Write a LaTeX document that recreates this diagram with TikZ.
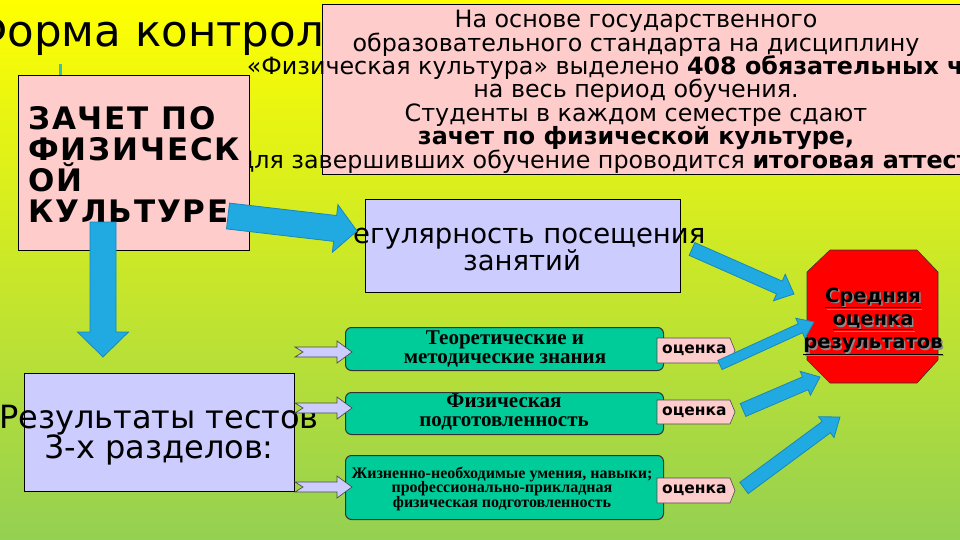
\documentclass[tikz,border=0pt]{standalone}
\usepackage{fontspec}
\setmainfont{DejaVu Sans}
\newfontfamily\tms{Liberation Serif}
\definecolor{bgtop}{RGB}{255,255,0}
\definecolor{bgmid}{RGB}{212,236,30}
\definecolor{bgbot}{RGB}{148,208,82}
\definecolor{pinkbox}{RGB}{255,204,204}
\definecolor{lav}{RGB}{204,204,255}
\definecolor{tealbox}{RGB}{0,204,153}
\definecolor{ablue}{RGB}{33,170,226}
\definecolor{aedge}{RGB}{25,135,185}
\definecolor{octred}{RGB}{255,0,0}
\definecolor{markcol}{RGB}{60,190,180}
\newcommand\fs[2]{\fontsize{#1}{#2}\selectfont}
% block arrow: x1,y1,x2,y2,shaft half width,head half width,head length,style
\newcommand\blkarrow[8]{%
  \pgfmathsetmacro\bkang{atan2(-(#4-#2),#3-#1)}%
  \pgfmathsetmacro\bklen{veclen(#3-#1,#4-#2)}%
  \pgfmathsetmacro\bkbk{\bklen-#7}%
  \draw[#8,shift={(#1,#2)},rotate=\bkang] (0,-#5) -- (\bkbk,-#5) -- (\bkbk,-#6) -- (\bklen,0) -- (\bkbk,#6) -- (\bkbk,#5) -- (0,#5) -- cycle;}
% notched arrow: tail x, centre y
\newcommand\notcharrow[2]{%
  \draw[notch] (#1,#2-5) -- (#1+42,#2-5) -- (#1+42,#2-11) -- (#1+57,#2) -- (#1+42,#2+11) -- (#1+42,#2+5) -- (#1,#2+5) -- (#1+8,#2) -- cycle;}
% label shape: top y, bottom y
\newcommand\marklabel[3]{%
  \draw[lab] (657,#1) -- (730,#1) -- (735,{(#1+#2)/2}) -- (730,#2) -- (657,#2) -- cycle;
  \node[anchor=west,font=\fs{15.5}{17}\bfseries,inner sep=0] (#3) at (662,{(#1+#2)/2}) {оценка};}
\begin{document}
\begin{tikzpicture}[x=1pt,y=-1pt,
  bluearrow/.style={fill=ablue,draw=aedge,line width=0.8pt,line join=miter},
  notch/.style={fill=lav,draw=black!70,line width=0.7pt},
  lab/.style={fill=pinkbox,draw=black!70,line width=0.6pt},
  pinkrect/.style={draw=black,fill=pinkbox,line width=0.8pt,anchor=north west,inner sep=0},
  lavrect/.style={draw=black,fill=lav,line width=0.8pt,anchor=north west,inner sep=0},
  tealrect/.style={draw=black!80,fill=tealbox,line width=1pt,rounded corners=6,anchor=north west,inner sep=0},
  stdline/.style={anchor=base,font=\fs{23.8}{25},inner sep=0},
  zline/.style={anchor=base west,font=\fs{31}{31}\bfseries\addfontfeature{LetterSpace=6},inner sep=0},
  tline/.style={anchor=base,font=\tms\fs{21}{22}\bfseries,inner sep=0},
  smline/.style={anchor=base,font=\tms\fs{16}{16}\bfseries,inner sep=0},
  octline/.style={anchor=base,font=\fs{19.5}{20}\bfseries,inner sep=0}]
\useasboundingbox (0,0) rectangle (960,540);
\clip (0,0) rectangle (960,540);
\shade[top color=bgtop,middle color=bgmid,bottom color=bgbot] (0,0) rectangle (960,540);
% title
\node[anchor=base west,font=\fs{43.5}{45},inner sep=0] (title) at (-30,47) {Форма контроля};
\fill[markcol] (59,64) rectangle (62,75);
% standard box
\node[pinkrect,minimum width=660,minimum height=170] (std) at (322,4) {};
\node[stdline] (s1) at (636,28) {На основе государственного};
\node[stdline] (s2) at (636,51.5) {образовательного стандарта на дисциплину};
\node[stdline] (s3) at (636,75) {«Физическая культура» выделено \textbf{408 обязательных часов}};
\node[stdline] (s4) at (636,98) {на весь период обучения.};
\node[stdline] (s5) at (636,121.5) {Студенты в каждом семестре сдают};
\node[stdline] (s6) at (636,145) {\textbf{зачет по физической культуре,}};
\node[stdline] (s7) at (636,168) {Для завершивших обучение проводится \textbf{итоговая аттестация}};
% zachet box
\node[pinkrect,minimum width=231,minimum height=175] (zach) at (18,75) {};
\node[zline] (z1) at (28,129.5) {ЗАЧЕТ ПО};
\node[zline] (z2) at (28,160.5) {ФИЗИЧЕСК};
\node[zline] (z3) at (28,191.5) {ОЙ};
\node[zline] (z4) at (28,222) {КУЛЬТУРЕ};
% regularity box
\node[lavrect,minimum width=315,minimum height=93] (reg) at (365,199) {};
\node[anchor=base,font=\fs{27.5}{28},inner sep=0] (r1) at (521,243) {Регулярность посещения};
\node[anchor=base,font=\fs{27.5}{28},inner sep=0] (r2) at (522,270) {занятий};
% results box
\node[lavrect,minimum width=270,minimum height=118] (res) at (24,373) {};
\node[anchor=base,font=\fs{32}{32},inner sep=0] (e1) at (159,428) {Результаты тестов};
\node[anchor=base,font=\fs{32}{32},inner sep=0] (e2) at (159,458) {3-х разделов:};
% teal boxes
\node[tealrect,minimum width=318,minimum height=43] (t1) at (345,327) {};
\node[tline] (t1a) at (505,344) {Теоретические и};
\node[tline] (t1b) at (505,363) {методические знания};
\node[tealrect,minimum width=318,minimum height=42] (t2) at (345,392) {};
\node[tline] (t2a) at (504,407) {Физическая};
\node[tline] (t2b) at (504,426) {подготовленность};
\node[tealrect,minimum width=318,minimum height=64] (t3) at (345,455) {};
\node[smline] (t3a) at (502,478) {Жизненно-необходимые умения, навыки;};
\node[smline] (t3b) at (502,492.5) {профессионально-прикладная};
\node[smline] (t3c) at (502,507) {физическая подготовленность};
% notched arrows
\notcharrow{295}{352}
\notcharrow{295}{408}
\notcharrow{295}{487}
% labels
\marklabel{338}{363}{o1}
\marklabel{400}{424}{o2}
\marklabel{478}{503}{o3}
% octagon
\draw[fill=octred,draw=black!80,line width=0.6pt] (830,250) -- (917,250) -- (938,272) -- (938,360) -- (917,383) -- (830,383) -- (807,360) -- (807,272) -- cycle;
\node[octline,text=black!45] at (874.5,303.5) {\underline{Средняя}};
\node[octline,text=black!45] at (874.5,327) {\underline{оценка}};
\node[octline,text=black!45] at (874.5,350) {\underline{результатов}};
\node[octline] (c1) at (873,302) {\underline{Средняя}};
\node[octline] (c2) at (873,325.5) {\underline{оценка}};
\node[octline] (c3) at (873,348.5) {\underline{результатов}};
% blue arrows
\blkarrow{228}{216}{357}{231}{13}{24}{22}{bluearrow}
\blkarrow{103}{222}{103}{357}{13}{25.5}{25}{bluearrow}
\blkarrow{692}{249}{794}{294}{7}{14.5}{16}{bluearrow}
\blkarrow{720}{365}{814}{322}{5}{11}{15}{bluearrow}
\blkarrow{743}{410}{820}{377}{7}{13}{16}{bluearrow}
\blkarrow{744}{488}{840}{417}{7}{13}{17}{bluearrow}
\end{tikzpicture}
\end{document}
